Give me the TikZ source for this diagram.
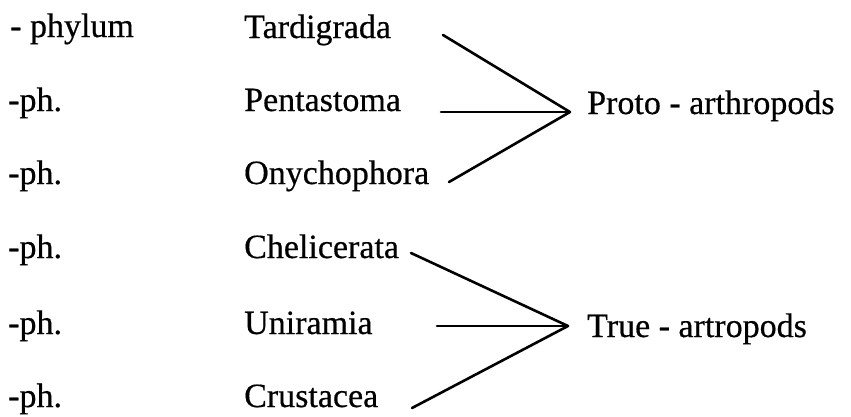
\documentclass[tikz,border=0pt]{standalone}
\usepackage{fontspec}
\setmainfont{Liberation Serif}[BoldFont={Liberation Serif},BoldFeatures={FakeBold=0.5}]
\begin{document}
\begin{tikzpicture}[x=1pt,y=-1pt,
  lbl/.style={inner sep=0pt,anchor=base west,font=\fontsize{34}{38}\selectfont\bfseries},
  link/.style={line width=2.6pt,line cap=round}]
\fill[white] (0,0) rectangle (851,416);
\useasboundingbox (0,0) rectangle (851,416);
% left column
\node[lbl] (r1) at (10,37) {- phylum};
\node[lbl] (r2) at (8,111) {-ph.};
\node[lbl] (r3) at (8,184) {-ph.};
\node[lbl] (r4) at (8,258) {-ph.};
\node[lbl] (r5) at (8,334) {-ph.};
\node[lbl] (r6) at (8,407) {-ph.};
% taxa
\node[lbl] (t1) at (244,38) {Tardigrada};
\node[lbl] (t2) at (244,111) {Pentastoma};
\node[lbl] (t3) at (244,184) {Onychophora};
\node[lbl] (t4) at (244,258) {Chelicerata};
\node[lbl] (t5) at (244,334) {Uniramia};
\node[lbl] (t6) at (244,407) {Crustacea};
% groups
\node[lbl] (g1) at (587,114) {Proto - arthropods};
\node[lbl] (g2) at (587,337) {True - artropods};
% connector ends
\coordinate (a1) at (570,112);
\coordinate (a2) at (568,326);
\coordinate (s1) at (443,35);
\coordinate (s2) at (441,112);
\coordinate (s3) at (449,182);
\coordinate (s4) at (411,253);
\coordinate (s5) at (437,326);
\coordinate (s6) at (412,408);
\draw[link] (s1) -- (a1);
\draw[link] (s2) -- (a1);
\draw[link] (s3) -- (a1);
\draw[link] (s4) -- (a2);
\draw[link] (s5) -- (a2);
\draw[link] (s6) -- (a2);
\end{tikzpicture}
\end{document}
